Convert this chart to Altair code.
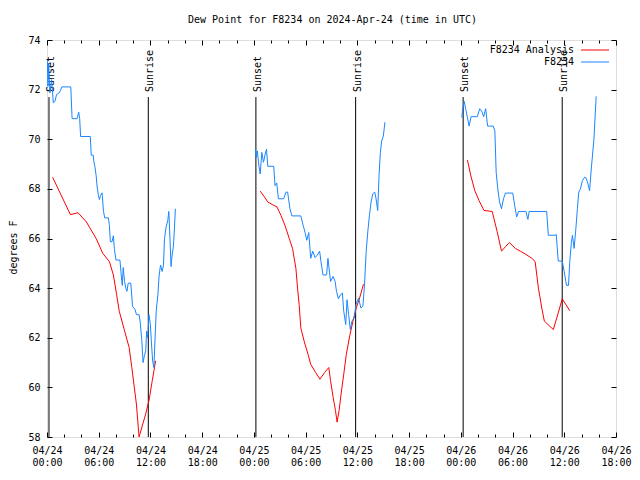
import altair as alt
import pandas as pd

FONT = "DejaVu Sans Mono"
TITLE = "Dew Point for F8234 on 2024-Apr-24 (time in UTC)"
Y_TITLE = "degrees F"
SERIES = ["F8234 Analysis", "F8234"]
COLORS = ["#ff0000", "#1a86ff"]

# hours since 2024-04-24 00:00 UTC
obs1_h = [0.04, 0.11, 0.19, 0.34, 0.54, 0.73, 0.92, 1.11, 1.42, 1.57, 1.72, 2.76, 2.91, 3.48, 3.68, 3.79, 3.90,
          5.02, 5.13, 5.36, 5.44, 5.55, 5.70, 5.82, 5.97, 6.08, 6.20, 6.39, 6.55, 6.70, 7.12, 7.24, 7.35, 7.54,
          7.70, 7.81, 8.00, 8.46, 8.61, 8.73, 8.84, 8.99, 9.15, 9.27, 9.42, 9.72, 9.92, 10.22, 10.38, 10.68,
          10.80, 10.99, 11.14, 11.29, 11.45, 11.56, 11.68, 11.83, 11.99, 12.10, 12.25, 12.40, 12.52, 12.67,
          12.86, 13.01, 13.17, 13.36, 13.51, 13.63, 13.82, 14.01, 14.13, 14.28, 14.39, 14.51, 14.66, 14.78, 14.89]
obs1_v = [73.2, 72.13, 73.07, 71.87, 72.4, 71.47, 71.53, 71.8, 71.87, 71.97, 72.11, 72.11, 70.83, 70.83, 71.09,
          70.83, 70.11, 70.11, 69.36, 69.36, 69.09, 68.91, 68.53, 68.07, 67.73, 67.57, 67.73, 67.84, 67.09, 66.83,
          66.83, 66.53, 65.87, 65.87, 66.11, 65.6, 65.13, 65.13, 64.53, 64.11, 64.83, 64.27, 64.0, 63.87, 64.2,
          64.2, 63.27, 63.13, 62.93, 62.93, 62.67, 61.93, 61.0, 61.27, 61.47, 62.27, 62.0, 62.93, 62.53, 61.87,
          61.07, 60.8, 61.87, 63.07, 63.73, 64.53, 64.93, 64.67, 64.93, 66.0, 66.47, 66.73, 67.09, 65.87, 64.87,
          65.33, 65.67, 66.4, 67.2]

obs2_h = [24.16, 24.27, 24.39, 24.58, 24.73, 24.92, 25.11, 25.31, 25.46, 25.61, 26.30, 26.45, 26.65, 26.84, 27.45,
          27.72, 27.91, 28.18, 28.41, 29.44, 29.71, 29.94, 30.13, 30.36, 30.59, 30.82, 31.09, 31.36, 31.62, 31.78,
          32.01, 32.43, 32.59, 32.89, 33.19, 33.42, 33.58, 33.80, 34.03, 34.26, 34.42, 34.65, 34.80, 34.99, 35.18,
          35.37, 35.64, 35.83, 36.14, 36.41, 36.64, 36.83, 37.02, 37.21, 37.40, 37.59, 37.79, 38.02, 38.17, 38.36,
          38.51, 38.67, 38.82, 39.01, 39.20]
obs2_v = [69.6, 69.27, 69.53, 68.93, 68.6, 69.47, 69.07, 69.4, 69.6, 68.91, 68.91, 68.13, 68.24, 67.6, 67.6,
          67.87, 67.87, 67.2, 66.91, 66.91, 66.53, 66.24, 65.93, 66.24, 65.2, 65.49, 65.23, 65.33, 65.49, 65.07,
          64.53, 64.53, 65.2, 64.27, 64.47, 64.27, 63.87, 63.57, 63.73, 63.8, 63.07, 62.53, 63.53, 62.93, 62.33,
          62.67, 62.8, 63.33, 63.6, 63.2, 63.27, 64.13, 65.47, 66.27, 66.93, 67.47, 67.8, 67.87, 67.6, 67.13,
          68.53, 69.47, 69.93, 70.13, 70.69]

obs3_h = [48.12, 48.20, 48.39, 48.58, 48.77, 48.96, 49.19, 49.92, 50.19, 50.42, 50.65, 50.88, 51.11, 51.76, 51.95,
          52.10, 52.29, 52.49, 52.72, 52.95, 53.18, 54.02, 54.25, 54.48, 54.71, 55.55, 55.78, 55.93, 57.96, 58.15,
          58.92, 59.07, 59.30, 59.76, 59.99, 60.26, 60.49, 60.64, 60.83, 60.95, 61.14, 61.33, 61.52, 61.68, 61.87,
          62.10, 62.36, 62.55, 62.75, 62.94, 63.13, 63.44, 63.70]
obs3_v = [70.87, 71.2, 71.53, 71.2, 70.87, 70.53, 70.91, 70.91, 71.23, 71.13, 70.91, 71.23, 70.53, 70.53, 70.33,
          68.67, 68.0, 67.47, 67.2, 67.6, 67.83, 67.83, 67.33, 66.87, 67.09, 67.09, 66.77, 67.09, 67.09, 66.13,
          66.13, 66.16, 65.09, 65.09, 64.67, 64.11, 64.11, 65.07, 65.87, 66.13, 65.6, 66.33, 67.2, 67.87, 68.0,
          68.33, 68.47, 68.43, 68.2, 67.93, 68.8, 70.0, 71.73]

ana1_h = [0.65, 2.72, 3.60, 4.56, 5.70, 6.47, 7.24, 7.70, 8.08, 8.38, 8.96, 9.53, 9.84, 10.37, 10.68, 11.45,
          11.83, 12.21, 12.60]
ana1_v = [68.47, 66.96, 67.04, 66.67, 66.0, 65.4, 65.07, 64.53, 63.73, 63.07, 62.33, 61.6, 60.8, 59.33, 58.0,
          58.93, 59.47, 60.27, 61.07]

ana2_h = [24.73, 25.23, 25.61, 26.19, 26.68, 27.14, 27.60, 28.10, 28.48, 28.87, 29.06, 29.25, 29.44, 29.82, 30.28,
          30.59, 31.16, 31.66, 32.20, 32.69, 32.89, 33.19, 33.46, 33.65, 33.88, 34.11, 34.42, 34.72, 35.11, 35.49,
          35.87, 36.26, 36.71]
ana2_v = [67.91, 67.67, 67.47, 67.36, 67.27, 66.93, 66.53, 66.0, 65.6, 64.8, 64.0, 63.33, 62.4, 61.87, 61.33,
          60.93, 60.6, 60.33, 60.6, 60.8, 60.27, 59.6, 59.07, 58.6, 59.07, 59.73, 60.53, 61.33, 62.07, 62.67,
          63.2, 63.6, 64.16]

ana3_h = [48.77, 49.16, 49.62, 50.11, 50.69, 51.64, 52.22, 52.72, 53.18, 53.63, 54.32, 54.90, 55.55, 56.24, 56.62,
          57.00, 57.39, 57.69, 58.73, 59.30, 59.76, 60.64]
ana3_v = [69.16, 68.53, 67.93, 67.53, 67.13, 67.09, 66.27, 65.49, 65.67, 65.84, 65.6, 65.49, 65.36, 65.2, 65.07,
          64.0, 63.2, 62.67, 62.33, 63.0, 63.57, 63.09]

sun_h = [0.23, 11.75, 24.23, 35.80, 48.27, 59.76]
sun_label = ["Sunset", "Sunrise", "Sunset", "Sunrise", "Sunset", "Sunrise"]

x_ticks = list(range(0, 67, 2))
x_major = list(range(0, 67, 6))
y_ticks = list(range(58, 75, 2))


def seg_frame(pairs):
    rows = []
    for i, (hh, vv) in enumerate(pairs):
        for a, b in zip(hh, vv):
            rows.append({"h": a, "v": b, "seg": i})
    return pd.DataFrame(rows)


obs_df = seg_frame([(obs1_h, obs1_v), (obs2_h, obs2_v), (obs3_h, obs3_v)])
ana_df = seg_frame([(ana1_h, ana1_v), (ana2_h, ana2_v), (ana3_h, ana3_v)])
sun_df = pd.DataFrame({"h": sun_h, "label": sun_label})

W, H = 569, 397
xs = alt.Scale(domain=[0, 66], nice=False, zero=False)
ys = alt.Scale(domain=[58, 74], nice=False, zero=False)
tick_size = {"condition": {"test": "datum.value % 6 === 0", "value": 5}, "value": 3}
label_expr = ("['04/' + (24 + floor(datum.value / 24)), "
              "(datum.value % 24 < 10 ? '0' : '') + (datum.value % 24) + ':00']")

ax_x_labels = alt.Axis(orient="bottom", values=x_major, ticks=False, tickSize=0, labelExpr=label_expr,
                       labelFont=FONT, labelFontSize=10, labelColor="black", labelPadding=8,
                       labelLineHeight=12, labelFlush=False, labelOverlap=False, domain=False,
                       grid=False, title=None)
ax_y_labels = alt.Axis(orient="left", values=y_ticks, ticks=False, tickSize=0, labelFont=FONT,
                       labelFontSize=10, labelColor="black", labelPadding=7, labelOverlap=False,
                       domain=False, grid=False, title=Y_TITLE, titleFont=FONT, titleFontSize=10,
                       titleFontWeight="normal", titleColor="black", titleX=-34, titleY=207,
                       titleAngle=270, titleAlign="center", titleBaseline="middle")
ax_x_bottom_in = alt.Axis(orient="top", offset=-H, values=x_ticks, ticks=True, tickSize=tick_size,
                          tickColor="black", labels=False, domain=False, grid=False, title=None)
ax_x_top_in = alt.Axis(orient="bottom", offset=-H, values=x_ticks, ticks=True, tickSize=tick_size,
                       tickColor="black", labels=False, domain=False, grid=False, title=None)
ax_y_left_in = alt.Axis(orient="right", offset=-W, values=y_ticks, ticks=True, tickSize=5,
                        tickColor="black", labels=False, domain=False, grid=False, title=None)
ax_y_right_in = alt.Axis(orient="left", offset=-W, values=y_ticks, ticks=True, tickSize=5,
                         tickColor="black", labels=False, domain=False, grid=False, title=None)

red = alt.Chart(ana_df).mark_line(color=COLORS[0], strokeWidth=1, clip=True).encode(
    x=alt.X("h:Q", scale=xs, axis=ax_x_labels),
    y=alt.Y("v:Q", scale=ys, axis=ax_y_labels),
    detail="seg:N",
)
blue = alt.Chart(obs_df).mark_line(color=COLORS[1], strokeWidth=1, clip=True).encode(
    x=alt.X("h:Q", scale=xs, axis=ax_x_bottom_in),
    y=alt.Y("v:Q", scale=ys, axis=ax_y_left_in),
    detail="seg:N",
)
sun_rules = alt.Chart(sun_df).mark_rule(color="black", strokeWidth=1).encode(
    x=alt.X("h:Q", scale=xs, axis=ax_x_top_in),
    y=alt.Y(datum=71.70, scale=ys, axis=ax_y_right_in),
    y2=alt.Y2(datum=58),
)
sun_text = alt.Chart(sun_df).mark_text(angle=270, align="left", baseline="middle", font=FONT,
                                       fontSize=10, color="black", dy=2).encode(
    x=alt.X("h:Q", scale=xs, axis=None),
    y=alt.value(52),
    text="label:N",
)

title_mark = alt.Chart(pd.DataFrame({"t": [TITLE]})).mark_text(
    align="center", baseline="middle", font=FONT, fontSize=10, color="black"
).encode(text="t:N", x=alt.value(W / 2 + 1), y=alt.value(-20))


def legend_row(i, ypix):
    d = pd.DataFrame({"name": [SERIES[i]]})
    t = alt.Chart(d).mark_text(align="right", baseline="middle", font=FONT, fontSize=10,
                               color="black").encode(text="name:N", x=alt.value(527), y=alt.value(ypix))
    r = alt.Chart(d).mark_rule(color=COLORS[i], strokeWidth=1).encode(
        x=alt.value(534), x2=alt.value(562), y=alt.value(ypix))
    return [t, r]


layers = [sun_rules, sun_text, red, blue, title_mark] + legend_row(0, 10) + legend_row(1, 22)

chart = alt.layer(*layers).resolve_axis(x="independent", y="independent").properties(
    width=W, height=H,
    autosize=alt.AutoSizeParams(type="none"),
    padding={"left": 39, "top": 32, "right": 16, "bottom": 29},
).configure_view(stroke="black", strokeWidth=1).configure(background="white")

chart.save("out.html", embed_options={"renderer": "svg", "actions": False})
